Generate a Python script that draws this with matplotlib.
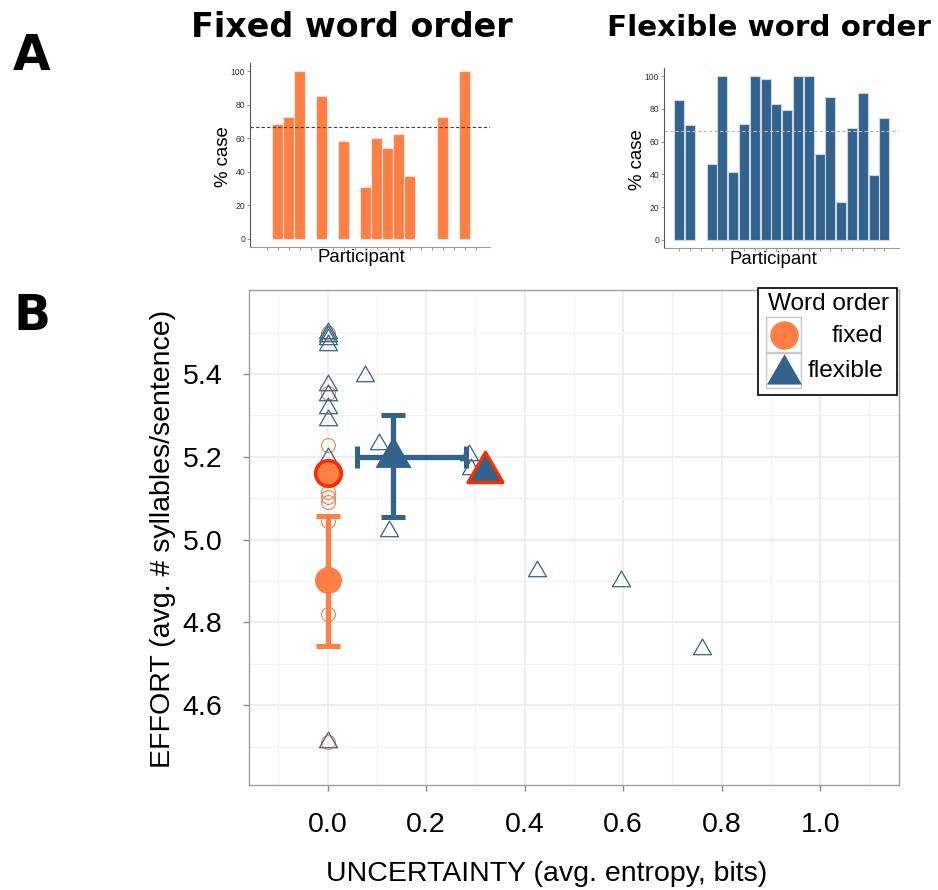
import numpy as np
import matplotlib
matplotlib.use('Agg')
import matplotlib.pyplot as plt
from matplotlib.lines import Line2D
from matplotlib.patches import Rectangle
from matplotlib.path import Path

ORANGE = '#FF7F45'
BLUE = '#33638D'
RED = '#FF2A00'

# ---------------- data ----------------
n_participants = 20
fixed_participants = [1, 2, 3, 5, 7, 9, 10, 11, 12, 13, 16, 18]
fixed_case_pct = [68.5, 72.7, 100, 85.5, 58.2, 31.1, 60.2, 54.0, 62.4, 37.3, 72.7, 100]
flex_participants = [0, 1, 3, 4, 5, 6, 7, 8, 9, 10, 11, 12, 13, 14, 15, 16, 17, 18, 19]
flex_case_pct = [85.4, 70.3, 46.1, 100, 41.7, 70.9, 100, 98.0, 82.9, 79.3,
                 100, 100, 52.2, 87.4, 23.0, 68.1, 89.8, 39.6, 74.6]
reference_pct = 66.7

fixed_unc = [0, 0, 0, 0, 0, 0, 0, 0, 0]
fixed_eff = [5.50, 5.355, 5.229, 5.114, 5.102, 5.09, 5.046, 4.82, 4.512]
flex_unc = [0, 0, 0, 0, 0, 0, 0, 0, 0, 0, 0,
            0.075, 0.105, 0.124, 0.288, 0.292, 0.426, 0.595, 0.761]
flex_eff = [5.50, 5.492, 5.485, 5.47, 5.374, 5.35, 5.318, 5.29, 5.197, 4.92, 4.51,
            5.395, 5.232, 5.021, 5.205, 5.17, 4.925, 4.899, 4.735]

fixed_mean_unc, fixed_mean_eff = 0.0, 4.903
fixed_eff_lo, fixed_eff_hi = 4.743, 5.058
flex_mean_unc, flex_mean_eff = 0.133, 5.2
flex_unc_lo, flex_unc_hi = 0.059, 0.280
flex_eff_lo, flex_eff_hi = 5.055, 5.301
highlight_fixed = (0.0, 5.161)
highlight_flex = (0.319, 5.163)

x_ticks = [0.0, 0.2, 0.4, 0.6, 0.8, 1.0]
y_ticks = [4.6, 4.8, 5.0, 5.2, 5.4]
pct_ticks = [0, 20, 40, 60, 80, 100]

# ---------------- figure ----------------
W, H = 938, 890
fig = plt.figure(figsize=(W / 100, H / 100), dpi=100)
SANS = ['Liberation Sans', 'DejaVu Sans']
BOLD = ['DejaVu Sans']


def fx(x):
    return x / W


def fy(y):
    return 1 - y / H


def axes_px(l, t, r, b):
    return [fx(l), fy(b), (r - l) / W, (b - t) / H]


tri_path = Path([(-0.866, -0.5), (0.866, -0.5), (0.0, 1.0), (-0.866, -0.5)],
                [Path.MOVETO, Path.LINETO, Path.LINETO, Path.CLOSEPOLY])


def bar_panel(rect, parts, vals, color, edge, refcolor, xlim, width):
    ax = fig.add_axes(rect)
    ax.bar(parts, vals, width=width, color=color, edgecolor=edge, linewidth=0.8)
    ax.axhline(reference_pct, color=refcolor, lw=0.8, ls=(0, (3, 2)))
    ax.set_xlim(*xlim)
    ax.set_ylim(-5, 105)
    ax.set_xticks(range(n_participants))
    ax.set_xticklabels([])
    ax.set_yticks(pct_ticks)
    ax.set_yticklabels([str(v) for v in pct_ticks], fontsize=6.2, color='#333333',
                       family=SANS)
    ax.tick_params(axis='both', length=2, width=0.6, color='#888888', pad=1.5)
    for s in ['top', 'right']:
        ax.spines[s].set_visible(False)
    ax.spines['left'].set_color('#555555')
    ax.spines['bottom'].set_color('#999999')
    ax.spines['left'].set_linewidth(0.8)
    ax.spines['bottom'].set_linewidth(0.8)
    return ax


bar_panel(axes_px(250, 63, 490, 247), fixed_participants, fixed_case_pct,
          ORANGE, '#FFE3D6', '#444444', (-1.5, 20.3), 0.96)
bar_panel(axes_px(664, 68, 899, 248), flex_participants, flex_case_pct,
          BLUE, '#C9D6E3', '#BBBBBB', (-1.4, 20.35), 0.92)

fig.text(fx(361), fy(258), 'Participant', fontsize=13.4, family=SANS, ha='center', va='center')
fig.text(fx(773), fy(259), 'Participant', fontsize=13.4, family=SANS, ha='center', va='center')
fig.text(fx(223), fy(157), '% case', fontsize=13.4, family=SANS, ha='center', va='center', rotation=90)
fig.text(fx(637), fy(160), '% case', fontsize=13.4, family=SANS, ha='center', va='center', rotation=90)

fig.text(fx(352), fy(37), 'Fixed word order', fontsize=24, family=BOLD, weight='bold',
         ha='center', va='baseline')
fig.text(fx(769), fy(36), 'Flexible word order', fontsize=21.2, family=BOLD, weight='bold',
         ha='center', va='baseline')
fig.text(fx(32), fy(70), 'A', fontsize=35, family=BOLD, weight='bold', ha='center', va='baseline')
fig.text(fx(32), fy(330), 'B', fontsize=35, family=BOLD, weight='bold', ha='center', va='baseline')

# ---------------- main scatter ----------------
ax = fig.add_axes(axes_px(249.3, 290, 899, 785))
ax.set_xlim(-0.159, 1.16)
ax.set_ylim(4.407, 5.603)
ax.set_xticks(x_ticks)
ax.set_xticklabels([f'{v:.1f}' for v in x_ticks], fontsize=20.5, family=SANS)
ax.set_yticks(y_ticks)
ax.set_yticklabels([f'{v:.1f}' for v in y_ticks], fontsize=20.5, family=SANS)
ax.set_xticks([-0.1, 0.1, 0.3, 0.5, 0.7, 0.9, 1.1], minor=True)
ax.set_yticks([4.5, 4.7, 4.9, 5.1, 5.3, 5.5], minor=True)
ax.tick_params(which='major', length=4.5, width=1, color='#888888', pad=15)
ax.tick_params(which='minor', length=0)
ax.grid(which='major', color='#EBEBEB', lw=1.2, zorder=0)
ax.grid(which='minor', color='#F3F3F3', lw=0.9, zorder=0)
ax.set_axisbelow(True)
for s in ax.spines.values():
    s.set_color('#A0A0A0')
    s.set_linewidth(1)

ax.plot(fixed_unc, fixed_eff, ls='none', marker='o', ms=10, mfc='none', mec=ORANGE,
        mew=0.8, zorder=2)
ax.plot(flex_unc, flex_eff, ls='none', marker=tri_path, ms=15, mfc='none', mec=BLUE,
        mew=0.9, zorder=2)

ax.errorbar([fixed_mean_unc], [fixed_mean_eff],
            yerr=[[fixed_mean_eff - fixed_eff_lo], [fixed_eff_hi - fixed_mean_eff]],
            fmt='none', ecolor=ORANGE, elinewidth=3.8, capsize=8.6, capthick=3.6, zorder=3)
ax.errorbar([flex_mean_unc], [flex_mean_eff],
            yerr=[[flex_mean_eff - flex_eff_lo], [flex_eff_hi - flex_mean_eff]],
            fmt='none', ecolor=BLUE, elinewidth=3.8, capsize=8.6, capthick=3.6, zorder=3)
ax.errorbar([flex_mean_unc], [flex_mean_eff],
            xerr=[[flex_mean_unc - flex_unc_lo], [flex_unc_hi - flex_mean_unc]],
            fmt='none', ecolor=BLUE, elinewidth=3.8, capsize=7.6, capthick=3.6, zorder=3)

ax.plot([fixed_mean_unc], [fixed_mean_eff], marker='o', ms=19.4, mfc=ORANGE, mec='none', zorder=4)
ax.plot([flex_mean_unc], [flex_mean_eff], marker=tri_path, ms=30, mfc=BLUE, mec='none', zorder=4)
ax.plot([highlight_fixed[0]], [highlight_fixed[1]], marker='o', ms=18.4, mfc=ORANGE, mec=RED,
        mew=2.6, zorder=5)
ax.plot([highlight_flex[0]], [highlight_flex[1]], marker=tri_path, ms=29, mfc=BLUE, mec=RED,
        mew=2.4, zorder=5)

fig.text(fx(547), fy(874), 'UNCERTAINTY (avg. entropy, bits)', fontsize=20.5, family=SANS,
         ha='center', va='center')
fig.text(fx(163), fy(539), 'EFFORT (avg. # syllables/sentence)', fontsize=20.5, family=SANS,
         ha='center', va='center', rotation=90)

# ---------------- legend ----------------
fig.add_artist(Rectangle((fx(758), fy(395)), (897 - 758) / W, (395 - 288) / H,
                         transform=fig.transFigure, facecolor='white', edgecolor='black',
                         lw=1.2, zorder=10))
fig.text(fx(768), fy(304), 'Word order', fontsize=17.6, family=SANS, ha='left', va='center',
         zorder=11)
for top in (317, 353):
    fig.add_artist(Rectangle((fx(766), fy(top + 35)), 35 / W, 35 / H, transform=fig.transFigure,
                             facecolor='white', edgecolor='#C8C8C8', lw=1, zorder=11))
fig.add_artist(Line2D([fx(783.5)], [fy(335)], transform=fig.transFigure, marker='o', ms=20.5,
                      mfc=ORANGE, mec='none', ls='none', zorder=12))
fig.add_artist(Line2D([fx(783.5)], [fy(374)], transform=fig.transFigure, marker=tri_path, ms=29,
                      mfc=BLUE, mec='none', ls='none', zorder=12))
fig.text(fx(883), fy(336), 'fixed', fontsize=17.6, family=SANS, ha='right', va='center', zorder=12)
fig.text(fx(883), fy(371), 'flexible', fontsize=17.6, family=SANS, ha='right', va='center', zorder=12)

fig.savefig('out.png', dpi=100)
